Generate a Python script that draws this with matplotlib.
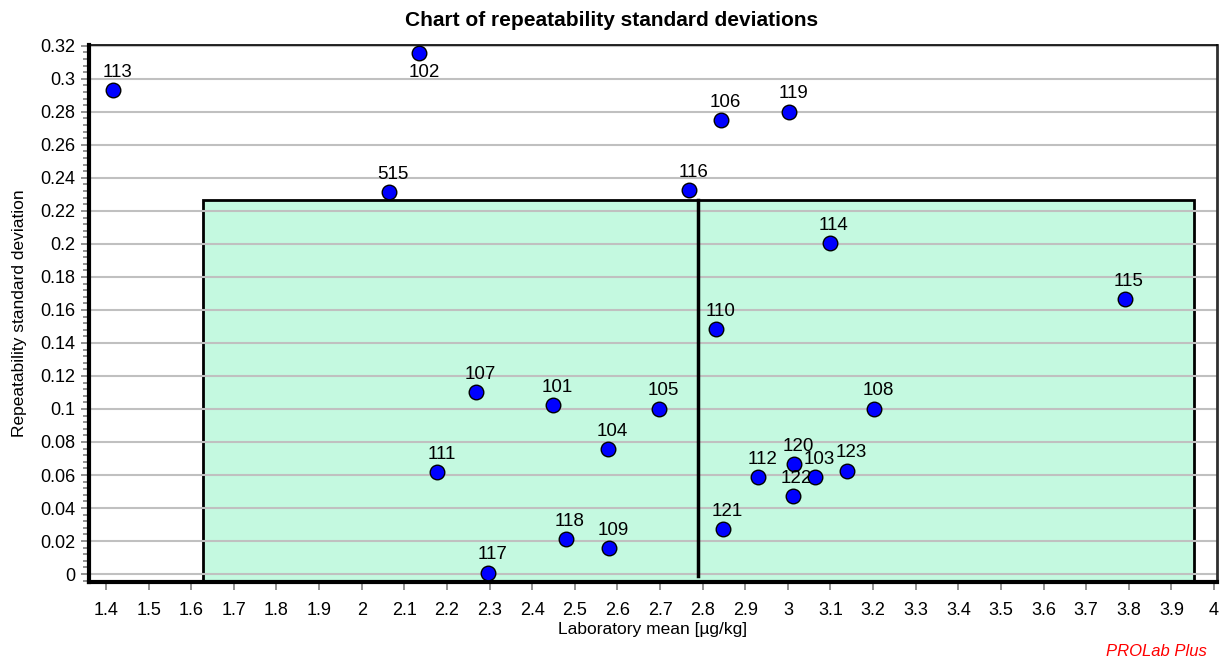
import matplotlib.pyplot as plt
from matplotlib.patches import Rectangle
from matplotlib.ticker import MultipleLocator

plt.rcParams['font.family'] = ['Liberation Sans', 'DejaVu Sans']

labs = ['113', '102', '515', '116', '106', '119', '114', '115', '110', '107',
        '101', '105', '108', '104', '111', '120', '112', '103', '123', '122',
        '121', '118', '109', '117']
lab_mean = [1.416, 2.135, 2.064, 2.769, 2.844, 3.003, 3.098, 3.790, 2.832, 2.269,
            2.448, 2.697, 3.202, 2.577, 2.177, 3.014, 2.931, 3.063, 3.139, 3.011,
            2.848, 2.479, 2.580, 2.297]
rep_sd = [0.2932, 0.3158, 0.2314, 0.2324, 0.2750, 0.2800, 0.2003, 0.1664, 0.1484, 0.1102,
          0.1022, 0.1001, 0.1001, 0.0757, 0.0616, 0.0666, 0.0586, 0.0586, 0.0626, 0.0472,
          0.0271, 0.0210, 0.0157, 0.0006]

# tolerance region and overall mean
x_low, x_high = 1.628, 3.952
sd_limit = 0.2265
overall_mean = 2.790

fig = plt.figure(figsize=(12.24, 6.67), dpi=100)
ax = fig.add_axes([0.0727, 0.127, 0.9216, 0.8055])

ax.set_xlim(1.36, 4.007)
ax.set_ylim(-0.005, 0.3205)

ax.yaxis.set_minor_locator(MultipleLocator(0.004))
ax.set_yticks([i * 0.02 for i in range(17)])
ax.set_yticklabels(['0'] + ['%g' % round(i * 0.02, 2) for i in range(1, 17)])
ax.set_xticks([1.4 + i * 0.1 for i in range(27)])
ax.set_xticklabels(['%g' % round(1.4 + i * 0.1, 1) for i in range(27)])

ax.grid(axis='y', color='#c0c0c0', lw=1.5, zorder=0)
ax.tick_params(axis='both', which='major', length=6, width=1.2, color='#808080',
               labelsize=13, pad=4)
ax.tick_params(axis='y', which='minor', length=4, width=1.2, color='#808080')
ax.tick_params(axis='x', pad=8)

ax.spines['left'].set_linewidth(3)
ax.spines['bottom'].set_linewidth(3)
ax.spines['top'].set_linewidth(1.2)
ax.spines['right'].set_linewidth(2)
ax.spines['right'].set_color('#303030')

ax.add_patch(Rectangle((x_low, -0.005), x_high - x_low, sd_limit + 0.005,
                       facecolor='#c4f9e0', edgecolor='black', lw=2, zorder=1))
ax.plot([overall_mean, overall_mean], [-0.001, sd_limit], color='black', lw=2.5, zorder=2)

ax.scatter(lab_mean, rep_sd, s=110, color='#0000ff', edgecolors='black',
           linewidths=1, zorder=3)
for lb, x, y in zip(labs, lab_mean, rep_sd):
    if lb == '102':
        ax.annotate(lb, (x, y), xytext=(4, -14), textcoords='offset points',
                    ha='center', va='center', fontsize=13.5, zorder=4)
    else:
        ax.annotate(lb, (x, y), xytext=(3, 13), textcoords='offset points',
                    ha='center', va='center', fontsize=13.5, zorder=4)

ax.set_xlabel('Laboratory mean [µg/kg]', fontsize=12.5, labelpad=2)
ax.set_ylabel('Repeatability standard deviation', fontsize=12.5, labelpad=9)
fig.text(0.5, 0.969, 'Chart of repeatability standard deviations', ha='center',
         va='center', fontsize=15, fontweight='bold')
fig.text(0.986, 0.012, 'PROLab Plus', ha='right', va='bottom', color='red',
         fontsize=12, style='italic')

fig.savefig('out.png', dpi=100)
